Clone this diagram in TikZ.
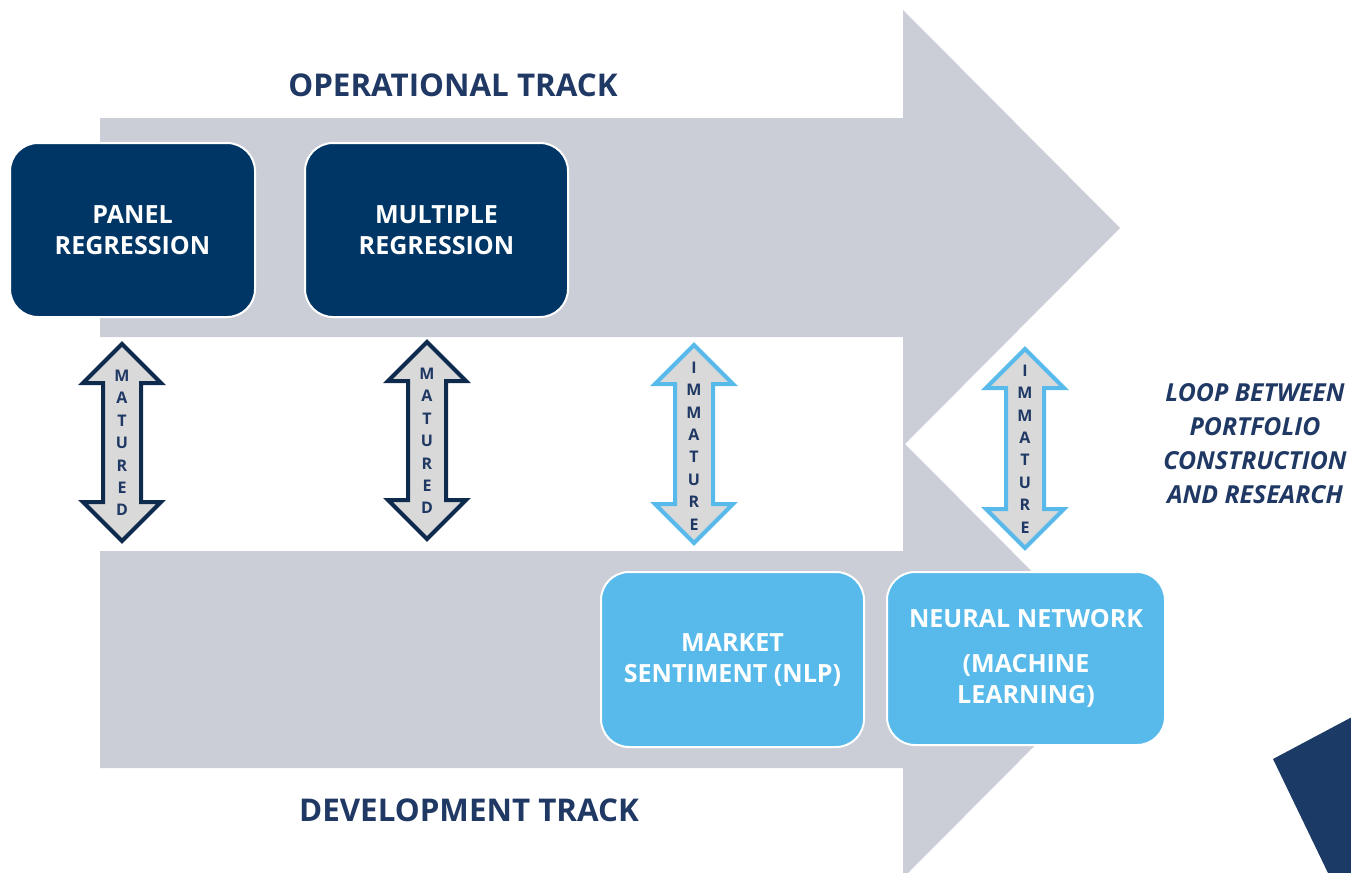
\documentclass[tikz,border=0pt]{standalone}
\usepackage{fontspec}
\setmainfont{Open Sans}
\usepackage{tikz}

\definecolor{trackgrey}{HTML}{CBCED6}
\definecolor{oldnavy}{HTML}{003665}
\definecolor{newblue}{HTML}{57BAEB}
\definecolor{titlenavy}{HTML}{1F3864}
\definecolor{cornernavy}{HTML}{1B3A66}
\definecolor{arrowgrey}{HTML}{D9D9D9}
\definecolor{edgenavy}{HTML}{0E2A4C}

% up-and-down arrow: centre x, top y, bottom y, outline colour
\newcommand{\twoway}[4]{%
  \draw[line width=3pt, draw=#4, fill=arrowgrey]
    (#1,#2+2) -- (#1+39,#2+41) -- (#1+19,#2+41) -- (#1+19,#3-41)
    -- (#1+39,#3-41) -- (#1,#3-2) -- (#1-39,#3-41) -- (#1-19,#3-41)
    -- (#1-19,#2+41) -- (#1-39,#2+41) -- cycle;}

\begin{document}
\begin{tikzpicture}[x=0.75pt, y=-0.75pt,
    oldbox/.style={rectangle, rounded corners=21pt, fill=oldnavy, draw=white,
      line width=1.5pt, text=white, align=center,
      font=\fontsize{18.8}{23.25}\selectfont\bfseries},
    newbox/.style={oldbox, fill=newblue},
    letters/.style={text=titlenavy, align=center, inner sep=0pt,
      font=\fontsize{12}{16.8}\selectfont\bfseries},
    title/.style={text=titlenavy, font=\fontsize{23.5}{28}\selectfont\bfseries},
    loopnote/.style={text=titlenavy, align=center,
      font=\fontsize{18.6}{25.5}\selectfont\bfseries\itshape}]
    \useasboundingbox (0,0) rectangle (1351,872);
    \clip (0,0) rectangle (1351,872);

    % the two tracks
    \fill[trackgrey] (100,118) -- (903,118) -- (903,10) -- (1120,228)
      -- (903,446) -- (903,337) -- (100,337) -- cycle;
    \fill[trackgrey] (100,551) -- (903,551) -- (903,442) -- (1120,660)
      -- (903,878) -- (903,768) -- (100,768) -- cycle;
    \fill[cornernavy] (1273,759) -- (1352,717) -- (1352,873) -- (1328,873) -- cycle;

    \node[title] (optrack) at (453,85) {OPERATIONAL TRACK};
    \node[title] (devtrack) at (469,810) {DEVELOPMENT TRACK};

    \node[oldbox, minimum width=183.75pt, minimum height=130.5pt] (panel) at (132.5,230)
      {PANEL\\REGRESSION};
    \node[oldbox, minimum width=197.25pt, minimum height=130.5pt] (multiple) at (436.5,230)
      {MULTIPLE\\REGRESSION};
    \node[newbox, minimum width=197.25pt, minimum height=131.25pt] (sentiment) at (732.5,659.5)
      {MARKET\\SENTIMENT (NLP)};
    \node[newbox, minimum width=208.5pt, minimum height=129.75pt] (neural) at (1026,658.5)
      {NEURAL NETWORK\\[10pt](MACHINE\\LEARNING)};

    \twoway{122}{342}{543}{edgenavy}
    \twoway{427}{340}{541}{edgenavy}
    \twoway{694}{343}{545}{newblue}
    \twoway{1025}{347}{550}{newblue}
    \node[letters] (mat1) at (122,443) {M\\A\\T\\U\\R\\E\\D};
    \node[letters] (mat2) at (427,441) {M\\A\\T\\U\\R\\E\\D};
    \node[letters] (imm1) at (694,446) {I\\M\\M\\A\\T\\U\\R\\E};
    \node[letters] (imm2) at (1025,449) {I\\M\\M\\A\\T\\U\\R\\E};

    \node[loopnote] (loop) at (1255,444)
      {LOOP BETWEEN\\PORTFOLIO\\CONSTRUCTION\\AND RESEARCH};
\end{tikzpicture}
\end{document}
